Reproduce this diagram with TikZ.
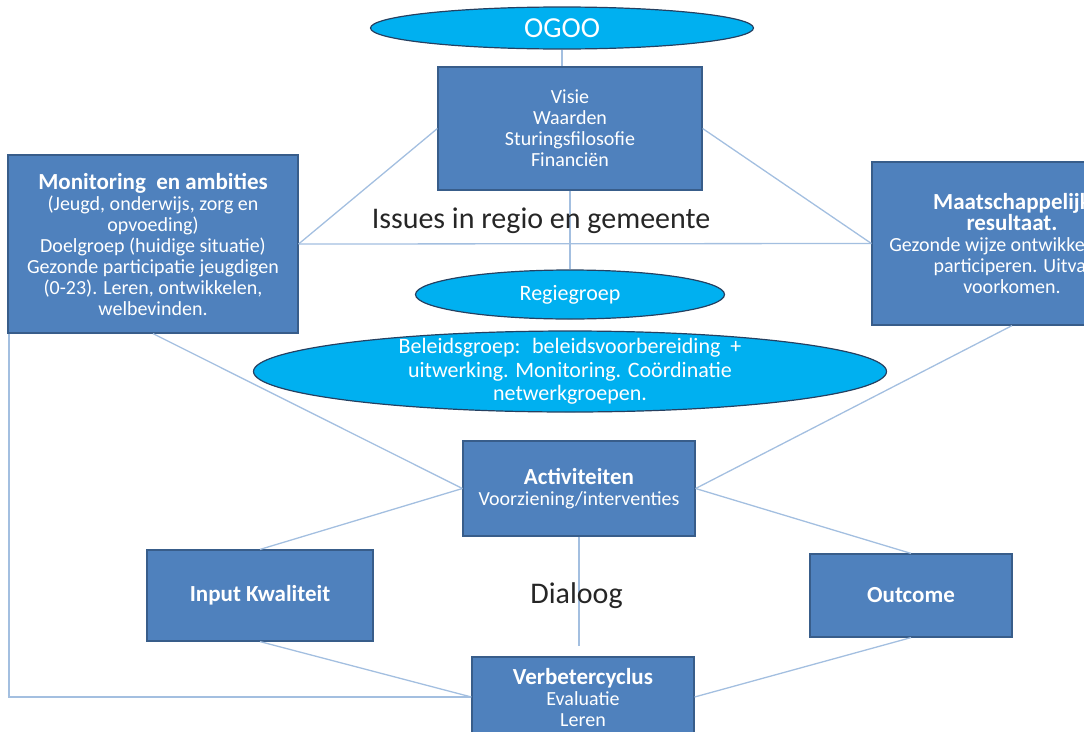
\documentclass[tikz,border=0pt]{standalone}
\usepackage{fontspec}
\setmainfont{Carlito}
\usetikzlibrary{shapes.geometric}
\definecolor{blokblauw}{RGB}{79,129,189}
\definecolor{blokrand}{RGB}{56,93,138}
\definecolor{ovaalblauw}{RGB}{0,176,240}
\definecolor{ovaalrand}{RGB}{37,64,97}
\definecolor{lijnblauw}{RGB}{163,191,224}
\newcommand{\kopregel}[1]{{\fontsize{23}{24}\selectfont\bfseries #1}}
\begin{document}
\begin{tikzpicture}[x=1pt, y=-1pt,
    blok/.style={draw=blokrand, fill=blokblauw, line width=1.2pt, text=white, align=center, inner sep=0pt, font=\fontsize{20}{21}\selectfont},
    ovaal/.style={ellipse, draw=ovaalrand, fill=ovaalblauw, line width=1.2pt, inner sep=0pt, text=white},
    lijn/.style={draw=lijnblauw, line width=1.3pt},
    losse tekst/.style={text=black!85, font=\fontsize{30}{32}\selectfont}]
      \useasboundingbox (0,0) rectangle (1084,731);
      \clip (0,0) rectangle (1084,731);

      \node[ovaal, minimum width=383, minimum height=42, font=\fontsize{29}{30}\selectfont] (ogoo) at (562,28) {OGOO};
      \node[blok, minimum width=264, minimum height=123] (visie) at (570,128.5) {Visie\\Waarden\\Sturingsfilosofie\\Financiën};
      \node[blok, minimum width=290, minimum height=178] (monitor) at (153,244) {\kopregel{Monitoring~ en ambities}\\(Jeugd, onderwijs, zorg en\\opvoeding)\\Doelgroep (huidige situatie)\\Gezonde participatie jeugdigen\\(0-23). Leren, ontwikkelen,\\welbevinden.};
      \node[blok, minimum width=280, minimum height=163] (maat) at (1012,243.5) {\kopregel{Maatschappelijk}\\\kopregel{resultaat.}\\Gezonde wijze ontwikkelen en\\participeren. Uitval\\voorkomen.};
      \node[ovaal, minimum width=309, minimum height=49, font=\fontsize{22}{23}\selectfont] (regie) at (570,294.5) {Regiegroep};
      \node[ovaal, minimum width=633, minimum height=81] (beleid) at (570,371.5) {};
      \node[text=white, align=center, font=\fontsize{22}{23.5}\selectfont] (beleidtekst) at (beleid.center) {Beleidsgroep:~ beleidsvoorbereiding~ +\\uitwerking. Monitoring. Coördinatie\\netwerkgroepen.};
      \node[blok, minimum width=232, minimum height=95] (activ) at (579,488.5) {\kopregel{Activiteiten}\\Voorziening/interventies};
      \node[blok, minimum width=226, minimum height=91] (input) at (260,595.5) {\kopregel{Input Kwaliteit}};
      \node[blok, minimum width=202, minimum height=83] (outcome) at (911,595.5) {\kopregel{Outcome}};
      \node[blok, minimum width=222, minimum height=80] (verb) at (583,697) {\kopregel{Verbetercyclus}\\Evaluatie\\Leren};

      \draw[lijn] (ogoo.south) -- (ogoo.south |- visie.north);
      \draw[lijn] (visie.west) -- (monitor.east);
      \draw[lijn] (visie.east) -- (maat.west);
      \draw[lijn] (monitor.east) -- (maat.west);
      \draw[lijn] (visie.south) -- (regie.north);
      \draw[lijn] (monitor.south) -- (activ.west);
      \draw[lijn] (maat.south) -- (activ.east);
      \draw[lijn] (activ.west) -- (input.north);
      \draw[lijn] (activ.east) -- (outcome.north);
      \draw[lijn, shorten >=10pt] (activ.south) -- (activ.south |- verb.north);
      \draw[lijn] (input.south) -- (verb.west);
      \draw[lijn] (outcome.south) -- (verb.east);
      \draw[lijn] ([xshift=1.5pt]monitor.south west) |- (verb.west);

      \node[losse tekst] (issues) at (541,221) {Issues in regio en gemeente};
      \node[losse tekst] (dialoog) at (576.5,596) {Dialoog};
    \end{tikzpicture}
\end{document}
